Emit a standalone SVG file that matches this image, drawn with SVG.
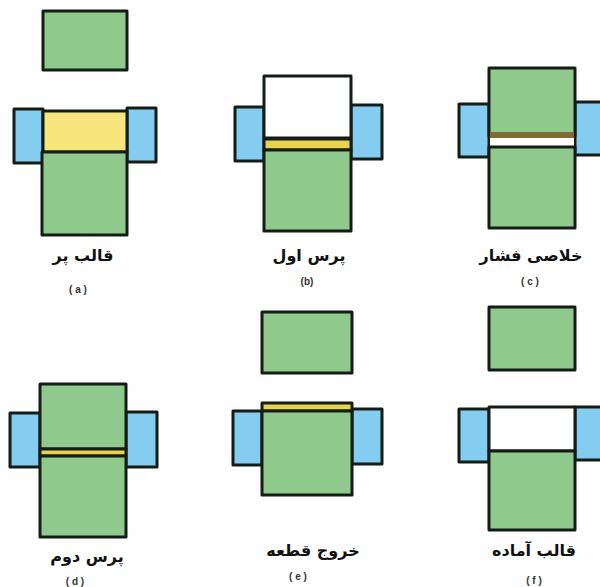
<svg xmlns="http://www.w3.org/2000/svg" width="600" height="587" viewBox="0 0 600 587">
<style>
.o{stroke:#141c16;stroke-width:3;stroke-linejoin:round}
.g{fill:#90c98c}.b{fill:#85cdf0}.y{fill:#f7e67c}.w{fill:#fff}.d{fill:#e8d24e}.br{fill:#7d6a35}
.t{font-family:"DejaVu Sans",sans-serif;font-weight:bold;font-size:16px;fill:#111;text-anchor:middle}
.s{font-family:"Liberation Sans",sans-serif;font-weight:bold;font-size:10px;fill:#333;text-anchor:middle}
</style>
<rect width="600" height="587" fill="#fefefe"/>
<g id="panel-a">
<rect class="o g" x="43" y="11" width="84" height="59"/>
<rect class="o b" x="14" y="109" width="29" height="54"/>
<rect class="o b" x="127" y="108" width="29" height="54"/>
<rect class="o y" x="43" y="111" width="84" height="41"/>
<rect class="o g" x="42" y="152" width="85" height="83"/>
<text class="t" x="83" y="261">قالب پر</text>
<text class="s" x="78" y="293">( a )</text>
</g>
<g id="panel-b">
<rect class="o b" x="235" y="107" width="29" height="54"/>
<rect class="o b" x="351" y="105" width="31" height="54"/>
<rect class="o w" x="264" y="76" width="87" height="62"/>
<rect class="o d" x="264" y="139" width="87" height="11"/>
<rect class="o g" x="264" y="150" width="87" height="81"/>
<text class="t" x="309" y="261">پرس اول</text>
<text class="s" x="307" y="285">(b)</text>
</g>
<g id="panel-c">
<rect class="o b" x="459" y="104" width="30" height="53"/>
<rect class="o b" x="575" y="102" width="30" height="53"/>
<rect class="o g" x="489" y="68" width="86" height="68"/>
<rect class="br" x="490" y="132" width="84" height="6"/>
<rect class="w" x="490" y="138" width="84" height="8"/>
<rect class="o g" x="489" y="147" width="86" height="81"/>
<text class="t" x="531" y="261">خلاصی فشار</text>
<text class="s" x="530" y="285">( c )</text>
</g>
<g id="panel-d">
<rect class="o b" x="10" y="413" width="30" height="54"/>
<rect class="o b" x="126" y="412" width="31" height="55"/>
<rect class="o g" x="40" y="384" width="86" height="65"/>
<rect class="o d" x="40" y="449" width="86" height="7"/>
<rect class="o g" x="40" y="456" width="86" height="81"/>
<text class="t" x="87" y="562">پرس دوم</text>
<text class="s" x="75" y="585">( d )</text>
</g>
<g id="panel-e">
<rect class="o g" x="262" y="312" width="90" height="61"/>
<rect class="o b" x="233" y="411" width="29" height="54"/>
<rect class="o b" x="352" y="409" width="30" height="55"/>
<rect class="o d" x="262" y="403" width="90" height="8"/>
<rect class="o g" x="262" y="411" width="90" height="84"/>
<text class="t" x="313" y="556">خروج قطعه</text>
<text class="s" x="298" y="580">( e )</text>
</g>
<g id="panel-f">
<rect class="o g" x="489" y="307" width="86" height="63"/>
<rect class="o b" x="459" y="409" width="30" height="53"/>
<rect class="o b" x="575" y="407" width="30" height="53"/>
<rect class="o w" x="489" y="407" width="86" height="44"/>
<rect class="o g" x="489" y="451" width="86" height="79"/>
<text class="t" x="534" y="556">قالب آماده</text>
<text class="s" x="534" y="584">( f )</text>
</g>
</svg>
